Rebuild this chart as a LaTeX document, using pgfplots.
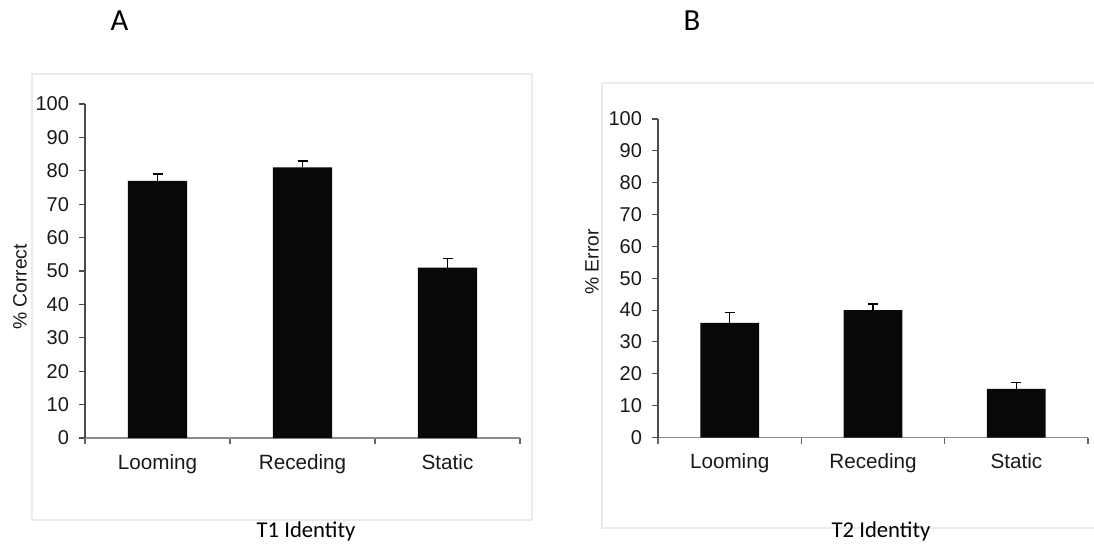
\documentclass[border=0pt]{standalone}
\usepackage{fontspec}
\setmainfont{Liberation Sans}
\newfontfamily\calibri{Carlito}
\usepackage{pgfplots}
\pgfplotsset{compat=1.18}

\pgfplotsset{
  panel/.style={
    scale only axis,
    xmin=-0.5, xmax=2.5, ymin=0, ymax=100,
    axis x line*=bottom, axis y line*=left,
    x axis line style={draw=black!45, line width=1pt},
    y axis line style={draw=black!70, line width=0.8pt},
    ytick={0,10,...,100},
    xtick={0,1,2}, xticklabels={Looming,Receding,Static},
    minor xtick={-0.5,0.5,1.5,2.5},
    tick align=outside,
    major tick length=4.5pt, minor tick length=4.5pt,
    major x tick style={draw=none},
    minor x tick style={draw=black!60, line width=0.8pt},
    ytick style={draw=black!70, line width=0.8pt},
    yticklabel style={font=\fontsize{15}{17}\selectfont, text=black!90, xshift=-4pt},
    xticklabel style={font=\fontsize{15.5}{18}\selectfont, text=black!90, yshift=-4pt},
    /pgf/number format/assume math mode=true,
    ybar, bar width=0.41,
    enlarge x limits=false,
  },
  barstyle/.style={
    fill=black!97, draw=none,
    error bars/.cd, y dir=plus, y explicit,
    error bar style={line width=1.2pt, black},
    error mark options={rotate=90, mark size=3.75pt, line width=1.2pt, black},
  },
}

\begin{document}
\begin{tikzpicture}[x=0.75pt, y=0.75pt]
\path[use as bounding box] (0,0) rectangle (1094,544);

% panel frames
\draw[black!8, line width=0.9pt] (32,470) rectangle (532,24);
\draw[black!8, line width=0.9pt] (1094,461) -- (602,461) -- (602,16) -- (1094,16);

% panel A
\begin{axis}[panel, at={(63.75pt,79.5pt)}, anchor=south west,
  width=326.25pt, height=250.5pt]
\addplot[barstyle] coordinates {
  (0,77) +- (0,2.0)
  (1,81) +- (0,2.0)
  (2,51) +- (0,2.7)
};
\end{axis}

% panel B
\begin{axis}[panel, at={(493.5pt,79.875pt)}, anchor=south west,
  width=322.5pt, height=238.9pt]
\addplot[barstyle] coordinates {
  (0,36) +- (0,3.3)
  (1,40) +- (0,2.0)
  (2,15.3) +- (0,2.0)
};
\end{axis}

% titles and labels
\node[font=\calibri\fontsize{23}{26}\selectfont, anchor=base] at (119.5,513) {A};
\node[font=\calibri\fontsize{23}{26}\selectfont, anchor=base] at (692,513) {B};
\node[rotate=90, font=\fontsize{14.5}{16}\selectfont, text=black!90] at (20,257) {\% Correct};
\node[rotate=90, font=\fontsize{14.5}{16}\selectfont, text=black!90] at (592,282) {\% Error};
\node[font=\calibri\fontsize{17}{20}\selectfont, anchor=base] at (306,7) {T1 Identity};
\node[font=\calibri\fontsize{17}{20}\selectfont, anchor=base] at (881,7) {T2 Identity};
\end{tikzpicture}
\end{document}
